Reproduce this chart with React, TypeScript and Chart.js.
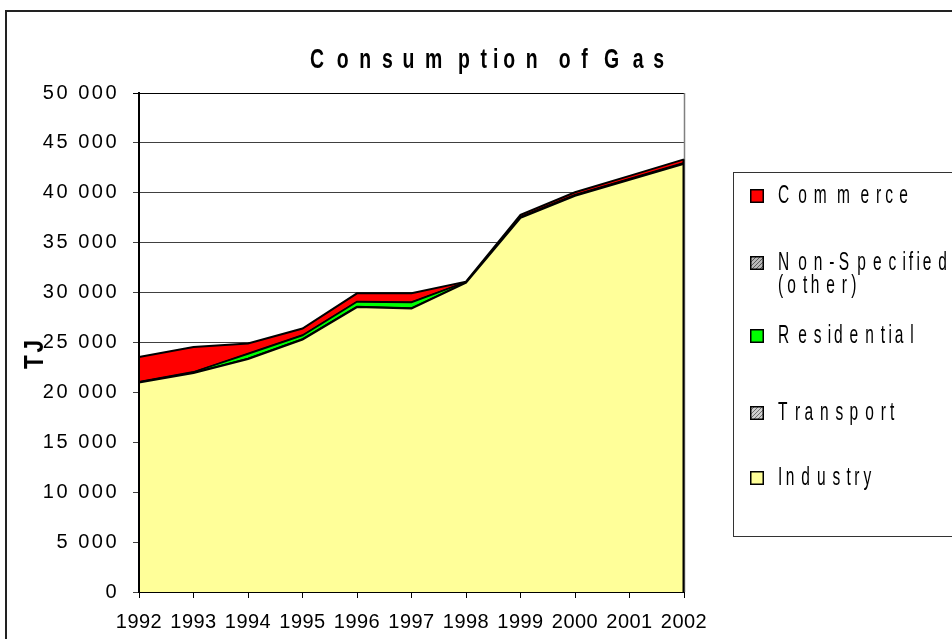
import React, { useEffect, useRef } from 'react';
import {
  Chart,
  LineController,
  LineElement,
  PointElement,
  LinearScale,
  CategoryScale,
  Filler,
} from 'chart.js';

// ---------- data ----------
const YEARS = ['1992', '1993', '1994', '1995', '1996', '1997', '1998', '1999', '2000', '2001', '2002'];
const INDUSTRY = [21000, 21950, 23350, 25300, 28550, 28400, 31000, 37500, 39700, 41300, 42900];
const TRANSPORT = [30, 30, 50, 50, 60, 60, 20, 40, 40, 40, 40];
const RESIDENTIAL = [20, 50, 450, 350, 450, 550, 30, 30, 30, 30, 30];
const NON_SPECIFIED = [30, 30, 50, 50, 60, 60, 20, 40, 40, 40, 40];
const COMMERCE = [2470, 2490, 1000, 650, 810, 860, 30, 190, 240, 290, 340];

const Y_TICK_VALUES = [0, 5000, 10000, 15000, 20000, 25000, 30000, 35000, 40000, 45000, 50000];
const Y_TICK_LABELS = ['0', '5 000', '10 000', '15 000', '20 000', '25 000', '30 000', '35 000', '40 000', '45 000', '50 000'];

const TITLE = 'Consumption of Gas';
const Y_TITLE = 'TJ';
const LEGEND_LINES = [
  ['Commerce'],
  ['Non-Specified', '(other)'],
  ['Residential'],
  ['Transport'],
  ['Industry'],
];

const FONT = '"Liberation Sans", Arial, sans-serif';

class SpacedYScale extends LinearScale {
  static id = 'spacedY';
  drawLabels(area: any) {
    const c = (this as any).ctx as CanvasRenderingContext2D;
    c.save();
    (c as any).letterSpacing = '2.5px';
    super.drawLabels(area);
    c.restore();
  }
}

class SpacedXScale extends CategoryScale {
  static id = 'spacedX';
  drawLabels(area: any) {
    const c = (this as any).ctx as CanvasRenderingContext2D;
    c.save();
    (c as any).letterSpacing = '0.5px';
    super.drawLabels(area);
    c.restore();
  }
}

function makePattern(base: string, dot: string) {
  const p = document.createElement('canvas');
  p.width = 4;
  p.height = 4;
  const c = p.getContext('2d')!;
  c.fillStyle = base;
  c.fillRect(0, 0, 4, 4);
  c.fillStyle = dot;
  for (let y = 0; y < 4; y++) {
    for (let x = 0; x < 4; x++) {
      if ((x + y) % 4 === 0) c.fillRect(x, y, 1, 1);
    }
  }
  return document.createElement('canvas').getContext('2d')!.createPattern(p, 'repeat')!;
}

function drawExcelText(
  ctx: CanvasRenderingContext2D,
  text: string,
  x: number,
  y: number,
  glyphFont: string,
  advanceFont: string,
  sx: number
) {
  let cx = x;
  for (const ch of text) {
    ctx.save();
    ctx.font = glyphFont;
    ctx.translate(cx, y);
    ctx.scale(sx, 1);
    ctx.fillText(ch, 0, 0);
    ctx.restore();
    ctx.font = advanceFont;
    cx += ctx.measureText(ch).width;
  }
}

export default function App() {
  const ref = useRef<HTMLCanvasElement>(null);

  useEffect(() => {
    Chart.register(LineController, LineElement, PointElement, LinearScale, CategoryScale, Filler, SpacedYScale, SpacedXScale);

    const patTransport = makePattern('#d0d0d0', '#707070');
    const patNonSpec = makePattern('#b8b8b8', '#585858');

    const legendFills: any[] = ['#FF0000', patNonSpec, '#00FF00', patTransport, '#FFFF99'];
    const legendBaselines = [[203], [270, 293], [343], [420], [485]];

    const decor = {
      id: 'decor',
      afterDraw(chart: any) {
        const ctx: CanvasRenderingContext2D = chart.ctx;
        const xs = chart.scales.x;
        const ys = chart.scales.y;
        const area = chart.chartArea;
        ctx.save();
        ctx.fillStyle = '#000';
        ctx.textBaseline = 'alphabetic';
        ctx.textAlign = 'left';

        // outer frame
        ctx.strokeStyle = '#222';
        ctx.lineWidth = 2;
        ctx.strokeRect(6, 11, 1200, 1200);

        // plot area right border
        ctx.strokeStyle = '#808080';
        ctx.lineWidth = 1.5;
        ctx.beginPath();
        ctx.moveTo(area.right + 0.5, area.top);
        ctx.lineTo(area.right + 0.5, area.bottom);
        ctx.stroke();

        // right edge outline of stacked area
        const last = YEARS.length - 1;
        const topVal = INDUSTRY[last] + TRANSPORT[last] + RESIDENTIAL[last] + NON_SPECIFIED[last] + COMMERCE[last];
        const xr = xs.getPixelForValue(last);
        ctx.strokeStyle = '#000';
        ctx.lineWidth = 2;
        ctx.beginPath();
        ctx.moveTo(xr - 0.5, ys.getPixelForValue(topVal));
        ctx.lineTo(xr - 0.5, ys.getPixelForValue(0));
        ctx.stroke();

        // title
        ctx.fillStyle = '#000';
        drawExcelText(ctx, TITLE, 310, 68, `bold 27px ${FONT}`, `bold 37px ${FONT}`, 0.72);

        // y-axis title
        ctx.save();
        ctx.translate(43, 369);
        ctx.rotate(-Math.PI / 2);
        drawExcelText(ctx, Y_TITLE, 0, 0, `bold 28px ${FONT}`, `bold 27px ${FONT}`, 0.8);
        ctx.restore();

        // legend box
        ctx.strokeStyle = '#333';
        ctx.lineWidth = 1;
        ctx.strokeRect(733.5, 172.5, 400, 364);

        LEGEND_LINES.forEach((lines, i) => {
          const bl = legendBaselines[i];
          ctx.fillStyle = legendFills[i];
          ctx.fillRect(750, bl[0] - 14, 14, 14);
          ctx.strokeStyle = '#000';
          ctx.lineWidth = 1.5;
          ctx.strokeRect(750.75, bl[0] - 13.25, 12.5, 12.5);
          ctx.fillStyle = '#000';
          lines.forEach((t, j) => {
            drawExcelText(ctx, t, 778, bl[j], `25px ${FONT}`, `28px ${FONT}`, 0.62);
          });
        });
        ctx.restore();
      },
    };

    const tickFont = { family: FONT, size: 20 };

    const chart = new Chart(ref.current!, {
      type: 'line',
      data: {
        labels: YEARS,
        datasets: [
          { label: 'Industry', data: INDUSTRY, backgroundColor: '#FFFF99', borderColor: '#000', borderWidth: 2, fill: 'origin' },
          { label: 'Transport', data: TRANSPORT, backgroundColor: patTransport, borderColor: '#000', borderWidth: 1.5, fill: '-1' },
          { label: 'Residential', data: RESIDENTIAL, backgroundColor: '#00FF00', borderColor: '#000', borderWidth: 1.5, fill: '-1' },
          { label: 'Non-Specified (other)', data: NON_SPECIFIED, backgroundColor: patNonSpec, borderColor: '#000', borderWidth: 1.5, fill: '-1' },
          { label: 'Commerce', data: COMMERCE, backgroundColor: '#FF0000', borderColor: '#000', borderWidth: 2, fill: '-1' },
        ],
      },
      options: {
        responsive: false,
        animation: false,
        devicePixelRatio: 1,
        events: [],
        layout: { padding: { left: 0, top: 93, right: 268, bottom: 0 } },
        elements: { point: { radius: 0 }, line: { tension: 0 } },
        plugins: { legend: { display: false }, title: { display: false }, tooltip: { enabled: false } },
        scales: {
          x: {
            type: 'spacedX' as any,
            offset: false,
            grid: { drawOnChartArea: false, drawTicks: true, tickLength: 6, color: '#000' },
            border: { color: '#000', width: 1, z: 1 },
            ticks: { font: tickFont, color: '#000', padding: 12, maxRotation: 0, autoSkip: false },
            afterFit: (s: any) => {
              s.height = 47;
            },
          },
          y: {
            type: 'spacedY' as any,
            stacked: true,
            min: 0,
            max: 50000,
            grid: {
              color: (c: any) => (c.tick && c.tick.value === 50000 ? '#000' : '#404040'),
              drawTicks: true,
              tickLength: 6,
            },
            border: { color: '#000', width: 2, z: 1 },
            ticks: {
              stepSize: 5000,
              font: tickFont,
              color: '#000',
              padding: 14,
              callback: (v: any) => {
                const i = Y_TICK_VALUES.indexOf(Number(v));
                return i >= 0 ? Y_TICK_LABELS[i] : '';
              },
            },
            afterFit: (s: any) => {
              s.width = 139;
            },
          },
        },
      } as any,
      plugins: [decor],
    });

    return () => chart.destroy();
  }, []);

  return (
    <div style={{ position: 'absolute', left: 0, top: 0, width: 952, height: 639, background: '#fff' }}>
      <canvas ref={ref} width={952} height={639} style={{ display: 'block', width: 952, height: 639 }} />
    </div>
  );
}
